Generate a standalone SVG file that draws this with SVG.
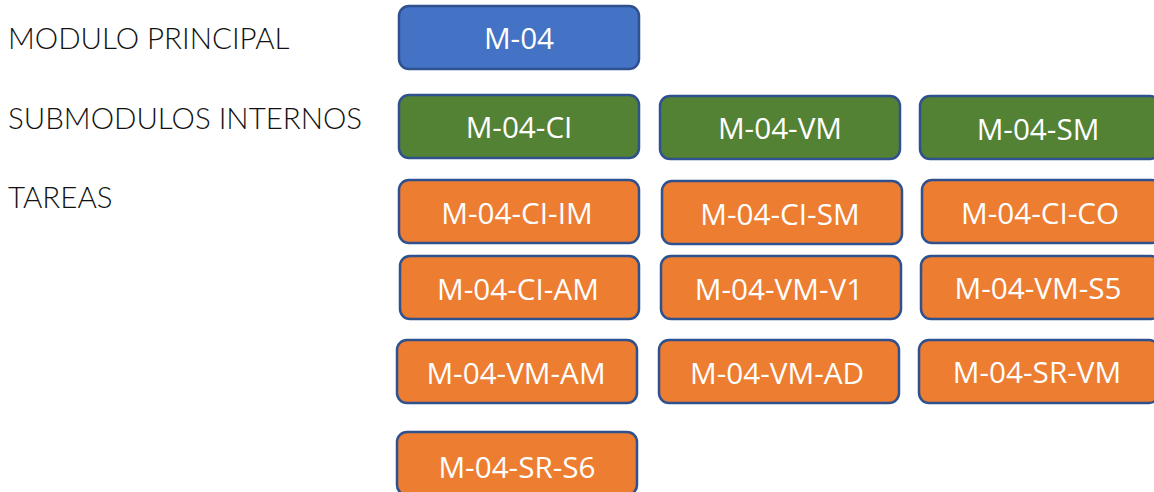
<svg xmlns="http://www.w3.org/2000/svg" width="1154" height="492" viewBox="0 0 1154 492">
<style>
.b{stroke:#2F528F;stroke-width:2.5}
.blue{fill:#4472C4}.green{fill:#548235}.orange{fill:#ED7D31}
.t{fill:#fff;font-family:"Open Sans","Liberation Sans",sans-serif;font-size:29.7px;text-anchor:middle;dominant-baseline:central}
.l{fill:#111;font-family:Lato,"Liberation Sans",sans-serif;font-size:29.5px;font-weight:300}
</style>
<rect width="1154" height="492" fill="#fff"/>
<g id="labels">
<text class="l" x="8" y="49">MODULO PRINCIPAL</text>
<text class="l" x="8" y="129">SUBMODULOS INTERNOS</text>
<text class="l" x="8" y="208">TAREAS</text>
</g>
<g id="connectors"></g>
<g id="n-m04"><rect class="b blue" x="399" y="6" width="240" height="63" rx="10"/><text class="t" x="519" y="37">M-04</text></g>
<g id="n-ci"><rect class="b green" x="399" y="95" width="240" height="63" rx="10"/><text class="t" x="519" y="126">M-04-CI</text></g>
<g id="n-vm"><rect class="b green" x="660" y="96" width="240" height="63" rx="10"/><text class="t" x="780" y="127">M-04-VM</text></g>
<g id="n-sm"><rect class="b green" x="920" y="96" width="240" height="63" rx="10"/><text class="t" x="1038" y="128">M-04-SM</text></g>
<g id="n-ci-im"><rect class="b orange" x="399" y="180" width="240" height="63" rx="10"/><text class="t" x="517" y="212">M-04-CI-IM</text></g>
<g id="n-ci-sm"><rect class="b orange" x="662" y="181" width="240" height="63" rx="10"/><text class="t" x="780" y="213">M-04-CI-SM</text></g>
<g id="n-ci-co"><rect class="b orange" x="922" y="180" width="240" height="63" rx="10"/><text class="t" x="1040" y="212">M-04-CI-CO</text></g>
<g id="n-ci-am"><rect class="b orange" x="400" y="256" width="239" height="63" rx="10"/><text class="t" x="518" y="288">M-04-CI-AM</text></g>
<g id="n-vm-v1"><rect class="b orange" x="661" y="256" width="240" height="63" rx="10"/><text class="t" x="779" y="288">M-04-VM-V1</text></g>
<g id="n-vm-s5"><rect class="b orange" x="921" y="256" width="240" height="63" rx="10"/><text class="t" x="1038" y="287">M-04-VM-S5</text></g>
<g id="n-vm-am"><rect class="b orange" x="397" y="340" width="240" height="63" rx="10"/><text class="t" x="516" y="372">M-04-VM-AM</text></g>
<g id="n-vm-ad"><rect class="b orange" x="659" y="340" width="240" height="63" rx="10"/><text class="t" x="777" y="372">M-04-VM-AD</text></g>
<g id="n-sr-vm"><rect class="b orange" x="919" y="340" width="240" height="63" rx="10"/><text class="t" x="1037" y="371">M-04-SR-VM</text></g>
<g id="n-sr-s6"><rect class="b orange" x="397" y="432" width="240" height="63" rx="10"/><text class="t" x="517" y="466">M-04-SR-S6</text></g>
</svg>
